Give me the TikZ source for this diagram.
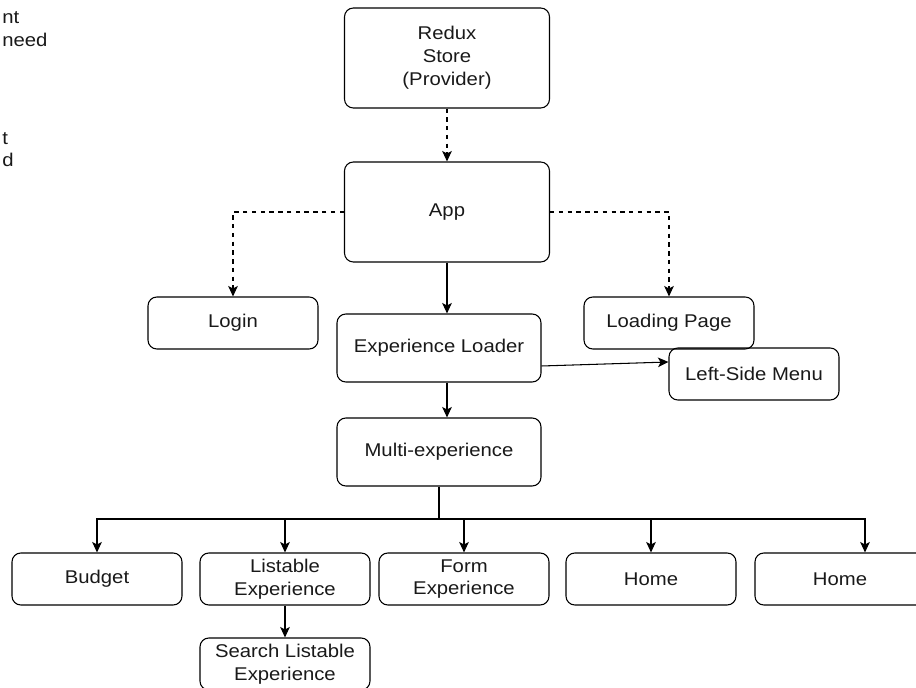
\documentclass[tikz,border=0pt]{standalone}
\usepackage{fontspec}
\setmainfont[FakeStretch=1.1]{Liberation Sans}
\usetikzlibrary{arrows.meta}

\begin{document}
\begin{tikzpicture}[x=0.02cm, y=-0.02cm,
    box/.style={draw, rounded corners=5pt, line width=0.6pt, align=center, text=black!90, font=\fontsize{10.5}{13}\selectfont, inner sep=0pt},
    bigbox/.style={box, minimum width=4.1cm, minimum height=2cm},
    midbox/.style={box, minimum width=4.08cm, minimum height=1.36cm},
    smallbox/.style={box, minimum width=3.4cm, minimum height=1.04cm},
    arr/.style={-{Stealth[length=6pt, width=5.5pt, inset=1.5pt]}, line width=0.6pt},
    dasharr/.style={arr, dash pattern=on 2.5pt off 2.5pt},
    frag/.style={anchor=base west, inner sep=0pt, text=black!90, font=\fontsize{10.5}{13}\selectfont}]
    \useasboundingbox (0,0) rectangle (916,688);
    \clip (0,0) rectangle (916,688);

    % cut-off notes on the left
    \node[frag] (notea) at (2,24) {nt};
    \node[frag] (noteb) at (2,47) {need};
    \node[frag] (notec) at (2,145) {t};
    \node[frag] (noted) at (2,167) {d};

    % top part
    \node[bigbox] (redux) at (447,58) {Redux\\Store\\(Provider)};
    \node[bigbox] (app) at (447,212) {App};
    \node[smallbox] (login) at (233,323) {Login};
    \node[smallbox] (loading) at (669,323) {Loading Page};
    \node[midbox] (loader) at (439,348) {Experience Loader};
    \node[smallbox] (menu) at (754,374) {Left-Side Menu};
    \node[midbox] (multi) at (439,452) {Multi-experience};

    % experiences
    \node[smallbox] (budget) at (97,579) {Budget};
    \node[smallbox] (listable) at (285,579) {Listable\\Experience};
    \node[smallbox] (form) at (464,579) {Form\\Experience};
    \node[smallbox] (home) at (651,579) {Home};
    \node[smallbox] (homeb) at (840,579) {Home};
    \node[smallbox] (search) at (285,664) {Search Listable\\Experience};

    \coordinate (bus) at (439,519);

    \draw[dasharr] (redux) -- (app);
    \draw[dasharr] (app.west) -| (login);
    \draw[dasharr] (app.east) -| (loading);
    \draw[arr] (app.south) -- (app.south |- loader.north);
    \draw[arr] (app.south |- loader.south) -- (app.south |- multi.north);
    \draw[arr] ([yshift=-0.36cm]loader.east) -- ([yshift=0.24cm]menu.west);
    \draw[line width=0.6pt] (multi) -- (bus);
    \draw[arr] (bus) -| (budget);
    \draw[arr] (bus) -| (listable);
    \draw[arr] (bus) -| (form);
    \draw[arr] (bus) -| (home);
    \draw[arr] (bus) -| ([xshift=0.5cm]homeb.north);
    \draw[arr] (listable) -- (search);
\end{tikzpicture}
\end{document}
